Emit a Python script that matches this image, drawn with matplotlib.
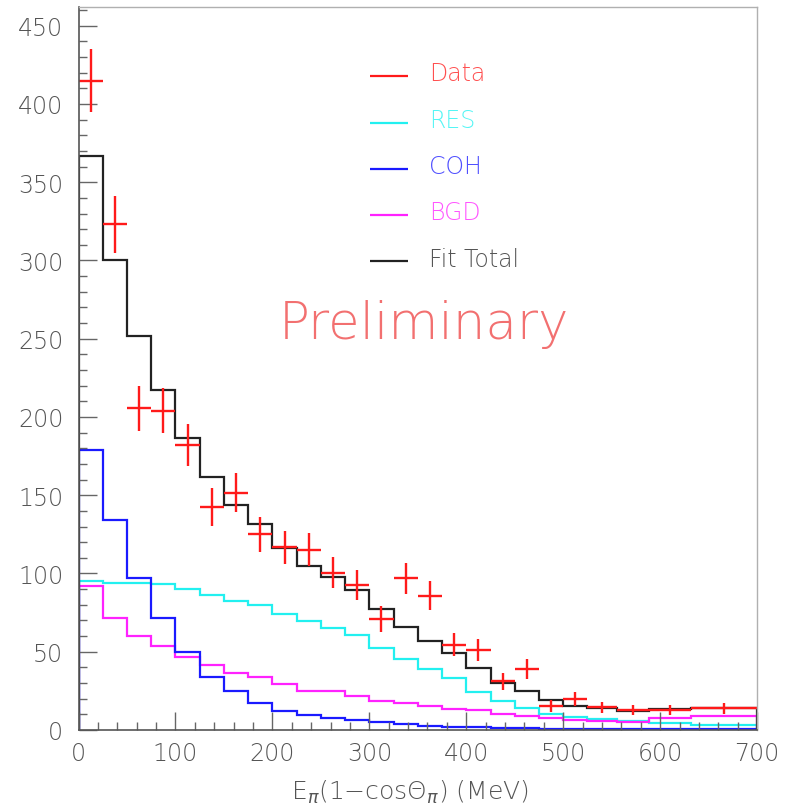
import numpy as np
import matplotlib
matplotlib.use("Agg")
import matplotlib.pyplot as plt

plt.rcParams['font.family'] = ['DejaVu Sans']
plt.rcParams['font.weight'] = 'light'

# bin edges (MeV)
edges = [0, 25, 50, 75, 100, 125, 150, 175, 200, 225, 250, 275, 300, 325, 350,
         375, 400, 425, 450, 475, 500, 525, 555, 588, 632, 700]

data_y = [415, 323, 205.5, 204, 182, 142.5, 151.7, 125, 116.6, 115.3, 100.6, 92.5,
          70.8, 96.8, 85.7, 54.4, 51.1, 31.1, 38.9, 15.1, 19.8, 14.5, 12.8, 12.8, 13.8]
data_err = [20.4, 18.0, 14.3, 14.3, 13.5, 11.9, 12.3, 11.2, 10.8, 10.7, 10.0, 9.6,
            8.4, 9.8, 9.3, 7.4, 7.1, 5.6, 6.2, 3.9, 4.4, 3.5, 3.3, 3.3, 3.5]

res = [94.9, 94.2, 93.8, 93.2, 90.0, 86.2, 82.5, 80.0, 74.0, 69.6, 65.1, 60.8, 52.3,
       45.3, 38.9, 33.4, 24.4, 18.7, 14.2, 10.0, 8.1, 7.0, 5.7, 4.5, 3.2]
coh = [178.7, 134.2, 97, 71.3, 49.6, 33.6, 24.7, 17.2, 11.9, 9.7, 7.7, 6.4, 4.9, 3.6,
       2.7, 2.1, 1.6, 1.3, 1.1, 0.9, 0.7, 0.6, 0.5, 0.4, 0.3]
bgd = [91.7, 71.7, 60.2, 53.4, 46.6, 41.5, 36.4, 33.6, 29.2, 24.9, 25.1, 21.9, 18.7,
       17.2, 15.1, 13.4, 12.8, 10.0, 8.9, 7.5, 6.4, 5.7, 5.3, 7.9, 9.1]
total = [366.5, 300.6, 252, 217, 186.3, 161.9, 143.6, 131.9, 116, 104.7, 98, 89.5,
         77.2, 65.9, 57, 49.1, 39.4, 30, 25, 19.3, 15.5, 14.2, 12.1, 13.4, 13.8]

labels = ["Data", "RES", "COH", "BGD", "Fit Total"]
colors = ["#ff1a1a", "#22f0f0", "#1a1aff", "#ff22ff", "#222222"]
text_colors = ["#ff5050", "#55f5f5", "#5050ff", "#ff55ff", "#555555"]

fig = plt.figure(figsize=(7.86, 8.12), dpi=100)
ax = fig.add_axes([0.0999, 0.0998, 0.8633, 0.8904])

e = np.array(edges, dtype=float)
centers = 0.5 * (e[:-1] + e[1:])
halfw = 0.5 * (e[1:] - e[:-1])

lw = 1.6
ax.stairs(res, e, baseline=0, color=colors[1], lw=lw)
ax.stairs(bgd, e, baseline=0, color=colors[3], lw=lw)
ax.stairs(coh, e, baseline=0, color=colors[2], lw=lw)
ax.stairs(total, e, baseline=0, color=colors[4], lw=lw)
ax.errorbar(centers, data_y, xerr=halfw, yerr=data_err, fmt='none',
            ecolor=colors[0], elinewidth=1.7, capsize=0)

ax.set_xlim(0, 700)
ax.set_ylim(0, 462)
ax.set_xticks(np.arange(0, 701, 100))
ax.set_xticks(np.arange(0, 701, 20), minor=True)
ax.set_yticks(np.arange(0, 451, 50))
ax.set_yticks(np.arange(0, 461, 10), minor=True)
ax.tick_params(which='both', direction='in', top=False, right=False,
               color='#666666', labelcolor='#555555', labelsize=17)
ax.tick_params(which='major', length=13, width=1)
ax.tick_params(which='minor', length=6, width=1)
ax.tick_params(axis='y', pad=11)
ax.tick_params(axis='x', pad=8)
for s in ['left', 'bottom']:
    ax.spines[s].set_color('#555555')
    ax.spines[s].set_linewidth(1.2)
for s in ['top', 'right']:
    ax.spines[s].set_color('#b0b0b0')
    ax.spines[s].set_linewidth(1.0)

# legend drawn manually in axes-fraction coordinates
leg_y = [0.905, 0.840, 0.776, 0.712, 0.648]
for lab, col, tcol, yy in zip(labels, colors, text_colors, leg_y):
    ax.plot([0.43, 0.486], [yy, yy], transform=ax.transAxes, color=col, lw=1.6,
            solid_capstyle='butt')
    ax.text(0.516, yy + 0.004, lab, transform=ax.transAxes, color=tcol,
            fontsize=17, va='center', ha='left')

ax.text(0.509, 0.562, "Preliminary", transform=ax.transAxes, color='#f27070',
        fontsize=37, ha='center', va='center')

fig.text(0.522, 0.008, r'E$_{\pi}$(1$-$cos$\Theta_{\pi}$) (MeV)', color='#555555',
         fontsize=18, ha='center', va='bottom')

fig.savefig("out.png", dpi=100)
